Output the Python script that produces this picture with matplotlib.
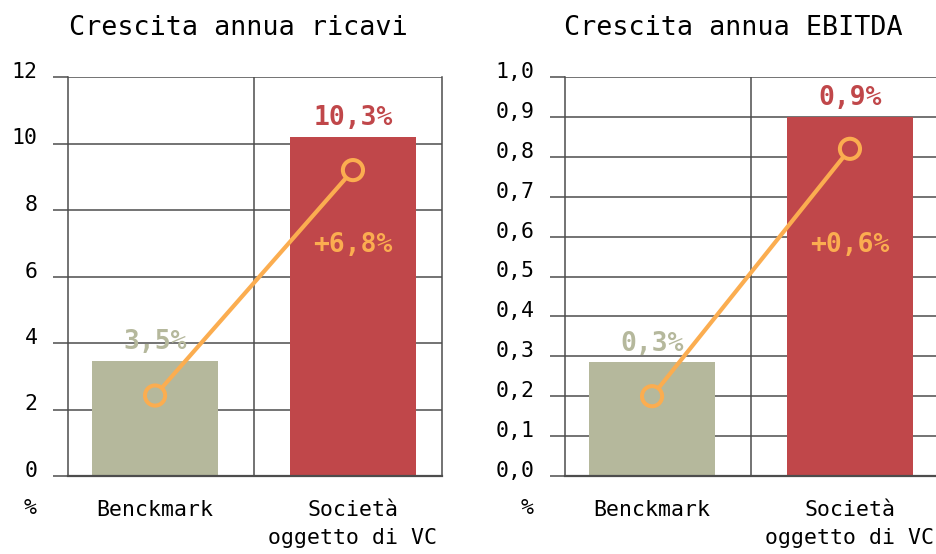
import matplotlib.pyplot as plt
import matplotlib.transforms as mtransforms

# data
categories = ["Benckmark", "Società\noggetto di VC"]
titles = ["Crescita annua ricavi", "Crescita annua EBITDA"]
bar_values = [[3.47, 10.2], [0.285, 0.9]]
bar_labels = [["3,5%", "10,3%"], ["0,3%", "0,9%"]]
line_values = [[2.42, 9.2], [0.2, 0.82]]
delta_labels = ["+6,8%", "+0,6%"]
y_ticks = [[0, 2, 4, 6, 8, 10, 12], [0, 0.1, 0.2, 0.3, 0.4, 0.5, 0.6, 0.7, 0.8, 0.9, 1.0]]
y_ticklabels = [["0", "2", "4", "6", "8", "10", "12"],
                ["0,0", "0,1", "0,2", "0,3", "0,4", "0,5", "0,6", "0,7", "0,8", "0,9", "1,0"]]
y_max = [12, 1.0]

GREEN = "#b5b89c"
RED = "#c0474a"
ORANGE = "#fbad50"
GRID = "#4d4d4d"

plt.rcParams["font.family"] = ["DejaVu Sans Mono"]

W, H = 937, 554
fig = plt.figure(figsize=(W / 100, H / 100), dpi=100)

lefts = [68, 565]
title_x = [238, 733]
ax_w = 374
bottom_px, top_px = 476, 77

for i in range(2):
    ax = fig.add_axes([lefts[i] / W, (H - bottom_px) / H, ax_w / W, (bottom_px - top_px) / H])
    x = [0, 1]
    ax.bar(x, bar_values[i], width=0.64, color=[GREEN, RED], zorder=2)
    ax.plot(x, line_values[i], color=ORANGE, lw=3, zorder=3)
    ax.scatter(x, line_values[i], s=14.5 ** 2, facecolors=[GREEN, RED], edgecolors=ORANGE,
               linewidths=2.9, zorder=4)

    ax.set_xlim(-0.44, 1.45)
    ax.set_ylim(0, y_max[i])
    ax.set_yticks(y_ticks[i])
    ax.set_yticklabels(y_ticklabels[i], fontsize=15.5)
    ax.set_xticks(x)
    ax.set_xticklabels(categories, fontsize=15.5, linespacing=1.55, va="top")
    ax.tick_params(axis="x", length=0, pad=17)
    ax.tick_params(axis="y", length=11, width=1.1, color=GRID, pad=11)
    offset = mtransforms.ScaledTranslation(0, 7 / 100, fig.dpi_scale_trans)
    for lbl in ax.get_yticklabels():
        lbl.set_transform(lbl.get_transform() + offset)

    ax.grid(axis="y", color=GRID, lw=1.1, zorder=1)
    ax.axvline(0.5, color=GRID, lw=1.1, zorder=1)
    ax.spines["top"].set_visible(False)
    for side in ["left", "right"]:
        ax.spines[side].set_color(GRID)
        ax.spines[side].set_linewidth(1.1)
    ax.spines["bottom"].set_color(GRID)
    ax.spines["bottom"].set_linewidth(1.6)
    ax.spines["bottom"].set_zorder(5)

    for j in range(2):
        c = GREEN if j == 0 else RED
        ax.annotate(bar_labels[i][j], xy=(x[j], bar_values[i][j]), xytext=(0, 13.5),
                    textcoords="offset points", ha="center", va="center",
                    fontsize=19, fontweight="bold", color=c, zorder=6)
    ax.text(1, 0.579, delta_labels[i], transform=ax.get_xaxis_transform(), ha="center",
            va="center", fontsize=19, fontweight="bold", color=ORANGE, zorder=6)

    fig.text(title_x[i] / W, 1 - 28 / H, titles[i], ha="center", va="center", fontsize=19.3)
    fig.text((lefts[i] - 31) / W, 1 - 508 / H, "%", ha="right", va="center", fontsize=15.5)

fig.savefig("out.png", dpi=100)
